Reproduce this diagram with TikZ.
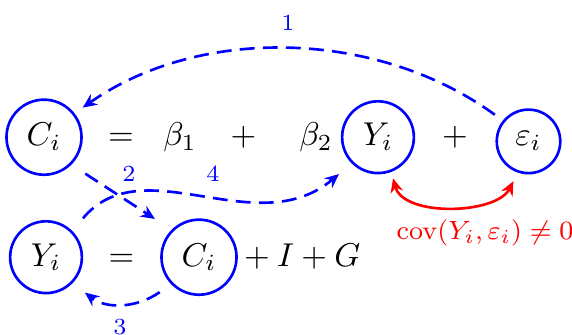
\documentclass[tikz,border=0pt]{standalone}
\usetikzlibrary{arrows.meta}
\begin{document}
\begin{tikzpicture}[x=0.303pt,y=0.303pt,
  var/.style={circle, draw=blue, thick, inner sep=3.333pt, anchor=base},
  sym/.style={anchor=base},
  lbl/.style={text=blue, font=\scriptsize, inner sep=0pt},
  tip/.style={-{Stealth[length=4.3pt,width=3.8pt]}},
  link/.style={draw=blue, thick, dash pattern=on 4.5pt off 2.5pt, tip},
  covlink/.style={draw=red, thick, {Stealth[length=4.3pt,width=3.8pt]}-{Stealth[length=4.3pt,width=3.8pt]}}]
\useasboundingbox (0,0) rectangle (572,334);
% first equation
\node[var] (C1) at (44,188) {$C_i$};
\node[sym] (eq1) at (121,188) {$=$};
\node[sym] (b1) at (180,188) {$\beta_1$};
\node[sym] (p1) at (243.5,188) {$+$};
\node[sym] (b2) at (316,188) {$\beta_2$};
\node[var] (Y1) at (378,188) {$Y_i$};
\node[sym] (p2) at (455,188) {$+$};
\node[var] (E) at (528.5,188) {$\varepsilon_i$};
% second equation
\node[var] (Y2) at (46,68) {$Y_i$};
\node[sym] (eq2) at (121.5,68) {$=$};
\node[var] (C2) at (199,68) {$C_i$};
\node[anchor=base west, inner sep=0pt] (rest) at (236,68) {${}+I+G$};
% labels
\node[lbl] (l1) at (288,311) {1};
\node[lbl] (l2) at (129,160) {2};
\node[lbl] (l4) at (213,160) {4};
\node[lbl] (l3) at (120,7) {3};
\node[text=red, font=\footnotesize] (cov) at (485,101.5) {$\mathrm{cov}(Y_i,\varepsilon_i)\neq 0$};
% connectors
\draw[link, shorten <=3pt, shorten >=3pt] (E.141) to[out=144,in=35,looseness=0.92] (C1.38);
\draw[link, shorten <=5pt, shorten >=6pt] (C1.-45) -- (C2.135);
\draw[link, shorten <=5pt, shorten >=5pt] (Y2.45) .. controls +(71,84) and +(-96,-80) .. (Y1.-135);
\draw[link, shorten <=4.2pt, shorten >=4.7pt] (C2.-136) to[out=-145,in=-38,looseness=1.1] (Y2.-44);
\draw[covlink, shorten <=2pt, shorten >=2.9pt] (Y1.-69) to[out=-75,in=-117,looseness=0.95] (E.-109);
\end{tikzpicture}
\end{document}
